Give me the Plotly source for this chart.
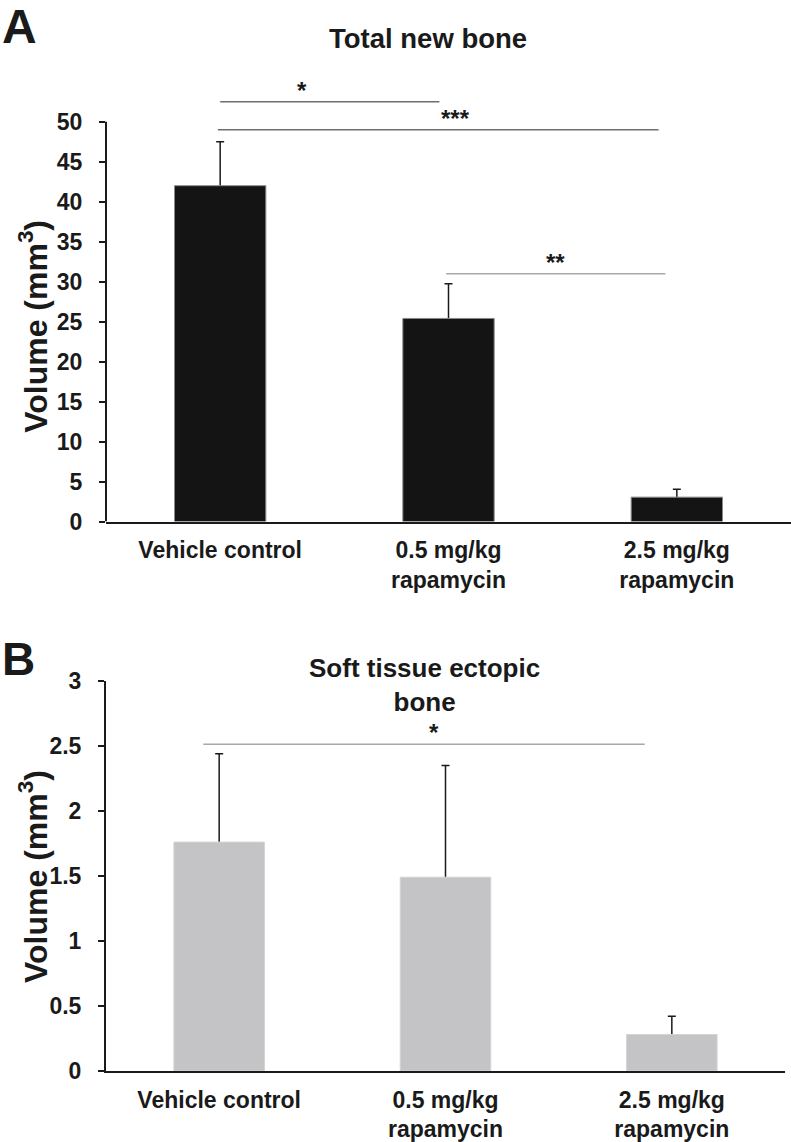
import plotly.graph_objects as go

# ---- data ----
categories = ["Vehicle control", "0.5 mg/kg<br>rapamycin", "2.5 mg/kg<br>rapamycin"]
total_mean = [42.0, 25.4, 3.05]
total_err = [5.5, 4.35, 1.0]
soft_mean = [1.76, 1.49, 0.28]
soft_err = [0.68, 0.86, 0.14]

top_ticks = [0, 5, 10, 15, 20, 25, 30, 35, 40, 45, 50]
bot_ticks = [0, 0.5, 1, 1.5, 2, 2.5, 3]
bot_ticktext = ["0", "0.5", "1", "1.5", "2", "2.5", "3"]

# significance comparisons: (x0, x1, level, label, label_x)
top_sig = [
    (0.0, 0.96, 52.5, "*", 0.36),
    (-0.01, 1.92, 49.0, "***", 1.03),
    (0.99, 1.95, 31.0, "**", 1.47),
]
top_sig_colors = ["#6e6e6e", "#6e6e6e", "#a8a8a8"]
bot_sig = [(-0.07, 1.88, 2.513, "*", 0.95)]

W, H = 791, 1142
FONT = "Liberation Sans, Arial, sans-serif"
INK = "#1a1a1a"


def py(ref_px):
    """vertical page position (px) -> paper fraction, compensating for the
    capture's vertical offset/scale"""
    return 1 - ((ref_px - 12.3) / 0.977) / H


fig = go.Figure()


def add_panel(means, errs, color, edge, xa, ya):
    # hidden carrier of the error bars (drawn beneath the visible bars,
    # so only the upper whisker shows)
    fig.add_trace(go.Bar(
        x=categories, y=means, width=0.4,
        marker=dict(color="rgba(0,0,0,0)", line=dict(width=0)),
        error_y=dict(type="data", array=errs, color=INK, thickness=1.5, width=4),
        xaxis=xa, yaxis=ya, showlegend=False, hoverinfo="skip",
    ))
    fig.add_trace(go.Bar(
        x=categories, y=means, width=0.4,
        marker=dict(color=color, line=dict(color=edge, width=1)),
        xaxis=xa, yaxis=ya, showlegend=False,
    ))


add_panel(total_mean, total_err, "#141414", "#8a8a8a", "x", "y")
add_panel(soft_mean, soft_err, "#c4c4c6", "#d4d4d4", "x2", "y2")

tickfont = dict(family=FONT, size=23, color=INK, weight="bold")

# top panel: 0 at page y=520.7, 50 at 121; range extended to 60 for brackets
top0, top50 = py(520.7), py(121)
top_y1 = top0 + (top50 - top0) * 60 / 50
bot_y0, bot_y1 = py(1070), py(680)

fig.update_layout(
    width=W, height=H,
    margin=dict(l=0, r=0, t=0, b=0),
    paper_bgcolor="white", plot_bgcolor="white",
    barmode="overlay",
    xaxis=dict(domain=[106 / W, 1], range=[-0.5, 2.5], showline=True,
               linecolor=INK, linewidth=2, ticks="", showgrid=False,
               zeroline=False, tickfont=tickfont, ticklabelstandoff=7),
    yaxis=dict(domain=[top0, top_y1], range=[0, 60], showline=False,
               ticks="outside", ticklen=6, tickwidth=2, tickcolor=INK,
               tickvals=top_ticks, showgrid=False, zeroline=False,
               tickfont=tickfont, ticklabelstandoff=12),
    xaxis2=dict(domain=[106 / W, 785 / W], range=[-0.5, 2.5], showline=True,
                linecolor=INK, linewidth=2, ticks="", showgrid=False,
                zeroline=False, tickfont=tickfont, ticklabelstandoff=7,
                anchor="y2"),
    yaxis2=dict(domain=[bot_y0, bot_y1], range=[0, 3], showline=True,
                linecolor=INK, linewidth=2,
                ticks="outside", ticklen=6, tickwidth=2, tickcolor=INK,
                tickvals=bot_ticks, ticktext=bot_ticktext, showgrid=False,
                zeroline=False, tickfont=tickfont, ticklabelstandoff=12,
                anchor="x2"),
)

shapes = []
# top y-axis line from 0 to 50
shapes.append(dict(type="line", xref="x domain", yref="y", x0=0, x1=0,
                   y0=top_ticks[0], y1=top_ticks[-1],
                   line=dict(color=INK, width=2)))
annotations = []
star_font = dict(family=FONT, size=24, color=INK, weight="bold")
for (x0, x1, lvl, lab, lx), col in zip(top_sig, top_sig_colors):
    shapes.append(dict(type="line", xref="x", yref="y", x0=x0, x1=x1,
                       y0=lvl, y1=lvl, line=dict(color=col, width=1.5)))
    annotations.append(dict(x=lx, y=lvl, xref="x", yref="y", text=lab,
                            showarrow=False, yanchor="bottom", yshift=-4,
                            font=star_font))
for (x0, x1, lvl, lab, lx) in bot_sig:
    shapes.append(dict(type="line", xref="x2", yref="y2", x0=x0, x1=x1,
                       y0=lvl, y1=lvl, line=dict(color="#a8a8a8", width=1.5)))
    annotations.append(dict(x=lx, y=lvl, xref="x2", yref="y2", text=lab,
                            showarrow=False, yanchor="bottom", yshift=-4,
                            font=star_font))


def bold(sz):
    return dict(family=FONT, size=sz, color=INK, weight="bold")


annotations += [
    dict(x=0 / W, y=py(26), xref="paper", yref="paper", text="A",
         showarrow=False, xanchor="left", yanchor="middle", font=bold(48)),
    dict(x=0 / W, y=py(658), xref="paper", yref="paper", text="B",
         showarrow=False, xanchor="left", yanchor="middle", font=bold(46)),
    dict(x=428 / W, y=py(38), xref="paper", yref="paper",
         text="Total new bone", showarrow=False, xanchor="center",
         yanchor="middle", font=bold(27.5)),
    dict(x=425 / W, y=py(684), xref="paper", yref="paper",
         text="Soft tissue ectopic<br>bone", showarrow=False, xanchor="center",
         yanchor="middle", font=bold(26)),
    dict(x=33 / W, y=py(326), xref="paper", yref="paper",
         text="Volume (mm<sup>3</sup>)", textangle=-90, showarrow=False,
         xanchor="center", yanchor="middle", font=bold(32)),
    dict(x=33 / W, y=py(876), xref="paper", yref="paper",
         text="Volume (mm<sup>3</sup>)", textangle=-90, showarrow=False,
         xanchor="center", yanchor="middle", font=bold(32)),
]

fig.update_layout(shapes=shapes, annotations=annotations)
fig.write_html(
    "out.html",
    config={"displayModeBar": False},
    post_script="document.body.style.margin='0';"
                "document.body.style.overflow='hidden';",
)
